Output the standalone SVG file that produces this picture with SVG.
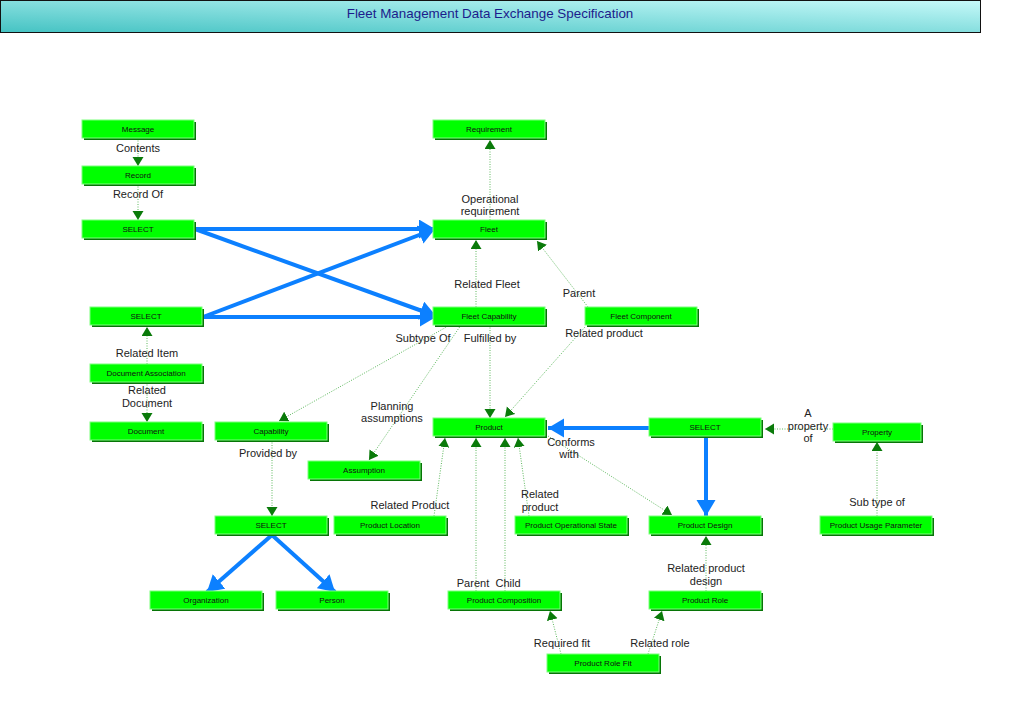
<svg xmlns="http://www.w3.org/2000/svg" width="1024" height="724" viewBox="0 0 1024 724">
<defs>
<linearGradient id="tg" x1="0" y1="1" x2="1" y2="0">
<stop offset="0" stop-color="#45c3c3"/>
<stop offset="1" stop-color="#c6f9f9"/>
</linearGradient>
<marker id="ga" markerUnits="userSpaceOnUse" markerWidth="10" markerHeight="12" refX="9" refY="5.5" orient="auto">
<path d="M0,0 L9,5.5 L0,11 z" fill="#0a7a0a"/>
</marker>
<marker id="ba" markerUnits="userSpaceOnUse" markerWidth="17" markerHeight="20" refX="16" refY="9.5" orient="auto">
<path d="M0,0 L16,9.5 L0,19 z" fill="#0c80ff"/>
</marker>
<style>
.sh{fill:#067506}
.bx{fill:#00ff00;stroke:#7dff7d;stroke-width:1}
.nt{font-family:"Liberation Sans",Arial,sans-serif;font-size:8px;fill:#111;text-anchor:middle}
.lb{font-family:"Liberation Sans",Arial,sans-serif;font-size:11px;fill:#222;text-anchor:middle}
.gl{stroke:#5cb85c;stroke-width:1;stroke-dasharray:1 1.5;fill:none;marker-end:url(#ga)}
.bl{stroke:#0c80ff;stroke-width:4;fill:none;marker-end:url(#ba)}
</style>
</defs>
<rect width="1024" height="724" fill="#fff"/>
<g id="title">
<rect x="0.5" y="0.5" width="980" height="32" fill="url(#tg)" stroke="#111" stroke-width="1"/>
<text x="490" y="17.5" font-family="'Liberation Sans',Arial,sans-serif" font-size="13.4" fill="#1c1c8c" text-anchor="middle">Fleet Management Data Exchange Specification</text>
</g>
<g id="connectors">
<line class="gl" x1="138" y1="138" x2="138" y2="166"/>
<line class="gl" x1="138" y1="184" x2="138" y2="220"/>
<line class="gl" x1="490" y1="220" x2="490" y2="140"/>
<line class="gl" x1="476" y1="307" x2="476" y2="240"/>
<line class="gl" x1="588" y1="307" x2="537" y2="241"/>
<line class="gl" x1="585" y1="327" x2="505" y2="417"/>
<line class="gl" x1="490" y1="325" x2="490" y2="418"/>
<line class="gl" x1="450" y1="325" x2="279" y2="421"/>
<line class="gl" x1="461" y1="325" x2="369" y2="460"/>
<line class="gl" x1="147" y1="364" x2="147" y2="327"/>
<line class="gl" x1="147" y1="382" x2="147" y2="422"/>
<line class="gl" x1="272" y1="440" x2="272" y2="516"/>
<line class="gl" x1="434" y1="516" x2="445" y2="438"/>
<line class="gl" x1="476" y1="591" x2="476" y2="438"/>
<line class="gl" x1="505" y1="591" x2="505" y2="438"/>
<line class="gl" x1="529" y1="516" x2="518" y2="438"/>
<line class="gl" x1="548" y1="436" x2="672" y2="515"/>
<line class="gl" x1="833" y1="429" x2="765" y2="429"/>
<line class="gl" x1="877" y1="516" x2="877" y2="442"/>
<line class="gl" x1="706" y1="591" x2="706" y2="536"/>
<line class="gl" x1="561" y1="654" x2="550" y2="611"/>
<line class="gl" x1="648" y1="654" x2="662" y2="611"/>
<line class="bl" x1="649" y1="428" x2="548" y2="428"/>
<line class="bl" x1="706" y1="438" x2="706" y2="516"/>
<line class="bl" x1="272" y1="535" x2="207" y2="592"/>
<line class="bl" x1="272" y1="535" x2="335" y2="592"/>
<line class="bl" x1="195" y1="229" x2="435" y2="229"/>
<line class="bl" x1="195" y1="229" x2="436" y2="316"/>
<line class="bl" x1="203" y1="317" x2="435" y2="229"/>
<line class="bl" x1="203" y1="317" x2="436" y2="317"/>
<text class="lb" x="138" y="152">Contents</text>
<text class="lb" x="138" y="198">Record Of</text>
<text class="lb" x="490" y="203">Operational</text>
<text class="lb" x="490" y="215">requirement</text>
<text class="lb" x="487" y="288">Related Fleet</text>
<text class="lb" x="579" y="297">Parent</text>
<text class="lb" x="604" y="337">Related product</text>
<text class="lb" x="423" y="342">Subtype Of</text>
<text class="lb" x="490" y="342">Fulfilled by</text>
<text class="lb" x="392" y="410">Planning</text>
<text class="lb" x="392" y="422">assumptions</text>
<text class="lb" x="147" y="357">Related Item</text>
<text class="lb" x="147" y="394">Related</text>
<text class="lb" x="147" y="407">Document</text>
<text class="lb" x="268" y="457">Provided by</text>
<text class="lb" x="410" y="509">Related Product</text>
<text class="lb" x="473" y="587">Parent</text>
<text class="lb" x="508" y="587">Child</text>
<text class="lb" x="540" y="498">Related</text>
<text class="lb" x="540" y="511">product</text>
<text class="lb" x="571" y="446">Conforms</text>
<text class="lb" x="569" y="458">with</text>
<text class="lb" x="808" y="417">A</text>
<text class="lb" x="808" y="430">property</text>
<text class="lb" x="808" y="442">of</text>
<text class="lb" x="877" y="506">Sub type of</text>
<text class="lb" x="706" y="572">Related product</text>
<text class="lb" x="706" y="585">design</text>
<text class="lb" x="562" y="647">Required fit</text>
<text class="lb" x="660" y="647">Related role</text>
</g>
<g id="n-message"><rect class="sh" x="84" y="122" width="112" height="18"/><rect class="bx" x="82" y="120" width="112" height="18"/><text class="nt" x="138" y="132">Message</text></g>
<g id="n-record"><rect class="sh" x="84" y="168" width="112" height="18"/><rect class="bx" x="82" y="166" width="112" height="18"/><text class="nt" x="138" y="178">Record</text></g>
<g id="n-select1"><rect class="sh" x="84" y="222" width="112" height="18"/><rect class="bx" x="82" y="220" width="112" height="18"/><text class="nt" x="138" y="232">SELECT</text></g>
<g id="n-requirement"><rect class="sh" x="435" y="122" width="112" height="18"/><rect class="bx" x="433" y="120" width="112" height="18"/><text class="nt" x="489" y="132">Requirement</text></g>
<g id="n-fleet"><rect class="sh" x="435" y="222" width="112" height="18"/><rect class="bx" x="433" y="220" width="112" height="18"/><text class="nt" x="489" y="232">Fleet</text></g>
<g id="n-select2"><rect class="sh" x="92" y="309" width="112" height="18"/><rect class="bx" x="90" y="307" width="112" height="18"/><text class="nt" x="146" y="319">SELECT</text></g>
<g id="n-fleet-capability"><rect class="sh" x="435" y="309" width="112" height="18"/><rect class="bx" x="433" y="307" width="112" height="18"/><text class="nt" x="489" y="319">Fleet Capability</text></g>
<g id="n-fleet-component"><rect class="sh" x="587" y="309" width="112" height="18"/><rect class="bx" x="585" y="307" width="112" height="18"/><text class="nt" x="641" y="319">Fleet Component</text></g>
<g id="n-document-association"><rect class="sh" x="92" y="366" width="112" height="18"/><rect class="bx" x="90" y="364" width="112" height="18"/><text class="nt" x="146" y="376">Document Association</text></g>
<g id="n-document"><rect class="sh" x="92" y="424" width="112" height="18"/><rect class="bx" x="90" y="422" width="112" height="18"/><text class="nt" x="146" y="434">Document</text></g>
<g id="n-capability"><rect class="sh" x="217" y="424" width="112" height="18"/><rect class="bx" x="215" y="422" width="112" height="18"/><text class="nt" x="271" y="434">Capability</text></g>
<g id="n-product"><rect class="sh" x="435" y="420" width="112" height="18"/><rect class="bx" x="433" y="418" width="112" height="18"/><text class="nt" x="489" y="430">Product</text></g>
<g id="n-select3"><rect class="sh" x="651" y="420" width="112" height="18"/><rect class="bx" x="649" y="418" width="112" height="18"/><text class="nt" x="705" y="430">SELECT</text></g>
<g id="n-property"><rect class="sh" x="835" y="425" width="88" height="18"/><rect class="bx" x="833" y="423" width="88" height="18"/><text class="nt" x="877" y="435">Property</text></g>
<g id="n-assumption"><rect class="sh" x="310" y="463" width="112" height="18"/><rect class="bx" x="308" y="461" width="112" height="18"/><text class="nt" x="364" y="473">Assumption</text></g>
<g id="n-select4"><rect class="sh" x="217" y="518" width="112" height="18"/><rect class="bx" x="215" y="516" width="112" height="18"/><text class="nt" x="271" y="528">SELECT</text></g>
<g id="n-product-location"><rect class="sh" x="336" y="518" width="112" height="18"/><rect class="bx" x="334" y="516" width="112" height="18"/><text class="nt" x="390" y="528">Product Location</text></g>
<g id="n-product-operational-state"><rect class="sh" x="517" y="518" width="112" height="18"/><rect class="bx" x="515" y="516" width="112" height="18"/><text class="nt" x="571" y="528">Product Operational State</text></g>
<g id="n-product-design"><rect class="sh" x="651" y="518" width="112" height="18"/><rect class="bx" x="649" y="516" width="112" height="18"/><text class="nt" x="705" y="528">Product Design</text></g>
<g id="n-product-usage-parameter"><rect class="sh" x="822" y="518" width="112" height="18"/><rect class="bx" x="820" y="516" width="112" height="18"/><text class="nt" x="876" y="528">Product Usage Parameter</text></g>
<g id="n-organization"><rect class="sh" x="152" y="593" width="112" height="18"/><rect class="bx" x="150" y="591" width="112" height="18"/><text class="nt" x="206" y="603">Organization</text></g>
<g id="n-person"><rect class="sh" x="278" y="593" width="112" height="18"/><rect class="bx" x="276" y="591" width="112" height="18"/><text class="nt" x="332" y="603">Person</text></g>
<g id="n-product-composition"><rect class="sh" x="450" y="593" width="112" height="18"/><rect class="bx" x="448" y="591" width="112" height="18"/><text class="nt" x="504" y="603">Product Composition</text></g>
<g id="n-product-role"><rect class="sh" x="651" y="593" width="112" height="18"/><rect class="bx" x="649" y="591" width="112" height="18"/><text class="nt" x="705" y="603">Product Role</text></g>
<g id="n-product-role-fit"><rect class="sh" x="549" y="656" width="112" height="18"/><rect class="bx" x="547" y="654" width="112" height="18"/><text class="nt" x="603" y="666">Product Role Fit</text></g>
</svg>
